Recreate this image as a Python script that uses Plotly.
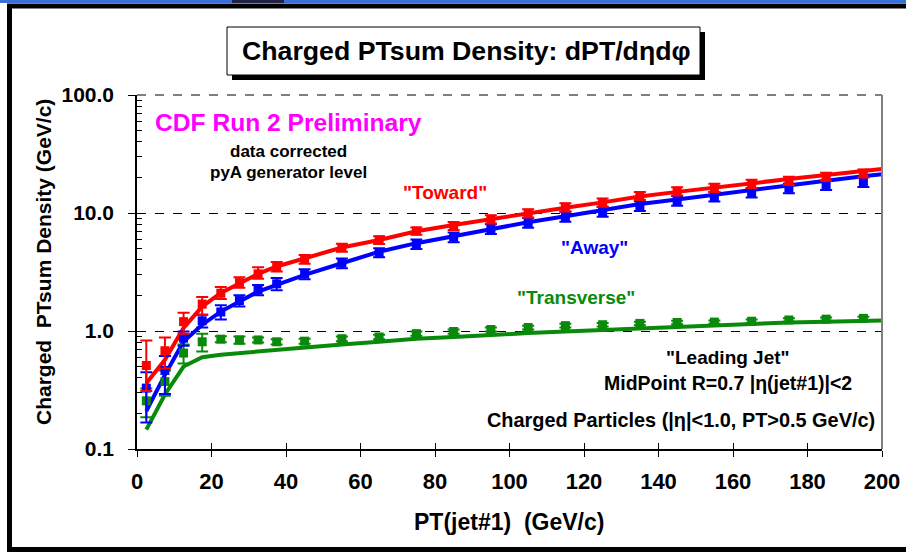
import plotly.graph_objects as go

# ---------------- data ----------------
pt = [2.5, 7.5, 12.5, 17.5, 22.5, 27.5, 32.5, 37.5, 45, 55, 65, 75, 85, 95,
      105, 115, 125, 135, 145, 155, 165, 175, 185, 195]

toward = [0.51, 0.68, 1.20, 1.69, 2.09, 2.57, 3.05, 3.50, 4.06, 5.09, 5.91, 7.05,
          7.78, 8.86, 9.95, 11.2, 12.3, 14.0, 15.3, 16.4, 17.7, 18.8, 20.3, 21.7]
toward_up = [0.32, 0.20, 0.23, 0.25, 0.27, 0.29, 0.42, 0.35, 0.35, 0.40, 0.45, 0.50,
             0.60, 0.70, 0.80, 0.90, 1.00, 1.10, 1.20, 1.30, 1.40, 1.50, 1.60, 1.70]
toward_dn = [0.20, 0.20, 0.25, 0.32, 0.22, 0.24, 0.28, 0.30, 0.35, 0.40, 0.45, 0.50,
             0.60, 0.70, 0.80, 0.90, 1.00, 1.10, 1.20, 1.30, 1.40, 1.50, 1.60, 1.70]

away = [0.328, 0.463, 0.87, 1.22, 1.45, 1.81, 2.23, 2.51, 3.04, 3.76, 4.62, 5.45,
        6.24, 7.33, 8.29, 9.33, 10.3, 11.5, 12.7, 13.8, 14.9, 16.2, 17.3, 18.4]
away_up = [0.12, 0.15, 0.12, 0.15, 0.20, 0.20, 0.22, 0.30, 0.30, 0.35, 0.40, 0.50,
           0.60, 0.70, 0.80, 0.90, 1.00, 1.10, 1.20, 1.30, 1.40, 1.50, 1.60, 1.80]
away_dn = [0.16, 0.17, 0.12, 0.15, 0.20, 0.20, 0.22, 0.30, 0.30, 0.35, 0.40, 0.50,
           0.60, 0.70, 0.80, 0.90, 1.00, 1.10, 1.20, 1.30, 1.40, 1.50, 1.60, 1.80]

transverse = [0.256, 0.373, 0.65, 0.81, 0.853, 0.84, 0.84, 0.81, 0.82, 0.86, 0.89, 0.95,
              0.99, 1.03, 1.07, 1.11, 1.13, 1.16, 1.18, 1.19, 1.21, 1.24, 1.26, 1.28]
transverse_err = [0.07, 0.09, 0.12, 0.14, 0.05, 0.06, 0.04, 0.04, 0.04, 0.04, 0.04, 0.04,
                  0.04, 0.04, 0.04, 0.04, 0.04, 0.04, 0.04, 0.04, 0.04, 0.04, 0.04, 0.04]

# pyA generator level curves
pt_theory = [2.5, 7.5, 12.5, 17.5, 22.5, 27.5, 32.5, 37.5, 45, 55, 65, 75, 85, 95,
             105, 115, 125, 135, 145, 155, 165, 175, 185, 195, 200]
toward_theory = [0.36, 0.57, 1.06, 1.61, 2.10, 2.55, 3.05, 3.52, 4.1, 5.1, 5.9, 7.0, 7.9,
                 8.9, 10.0, 11.1, 12.3, 13.8, 15.1, 16.5, 17.9, 19.4, 21.0, 22.7, 23.6]
away_theory = [0.21, 0.425, 0.815, 1.13, 1.46, 1.78, 2.16, 2.46, 2.99, 3.75, 4.7, 5.55,
               6.4, 7.35, 8.35, 9.4, 10.5, 11.9, 13.0, 14.3, 15.7, 17.2, 18.8, 20.5, 21.3]
transverse_theory = [0.146, 0.29, 0.50, 0.60, 0.63, 0.65, 0.67, 0.69, 0.73, 0.77, 0.81,
                     0.86, 0.89, 0.93, 0.96, 0.99, 1.02, 1.06, 1.09, 1.12, 1.15, 1.18,
                     1.20, 1.22, 1.23]

y_tickvals = [0.1, 1, 10, 100]
y_ticktext = ["0.1", "1.0", "10.0", "100.0"]
x_tickvals = list(range(0, 201, 20))

# ---------------- layout helpers ----------------
W, H = 906, 552
L, R, T, B = 137, 882, 95, 449


def px(x):
    return (x - L) / (R - L)


def py(y):
    return (B - y) / (B - T)


RED, BLUE, GREEN, MAG = "#FF0000", "#0000FF", "#0A8A0A", "#FF00FF"
FONT = "Liberation Sans, Arial, sans-serif"

fig = go.Figure()

for yv, col in [(transverse_theory, GREEN), (away_theory, BLUE), (toward_theory, RED)]:
    fig.add_trace(go.Scatter(x=pt_theory, y=yv, mode="lines",
                             line=dict(color=col, width=4),
                             showlegend=False, hoverinfo="skip"))

for yv, up, dn, col in [(transverse, transverse_err, transverse_err, GREEN),
                        (away, away_up, away_dn, BLUE),
                        (toward, toward_up, toward_dn, RED)]:
    fig.add_trace(go.Scatter(
        x=pt, y=yv, mode="markers",
        marker=dict(symbol="square", size=9, color=col, line=dict(width=0)),
        error_y=dict(type="data", symmetric=False, array=up, arrayminus=dn,
                     color=col, thickness=2, width=6),
        showlegend=False))

# empty trace to activate overlay axes (inside tick halves)
fig.add_trace(go.Scatter(x=[], y=[], xaxis="x2", yaxis="y2", showlegend=False))

minor_vals = [m * 10 ** e for e in (-1, 0, 1) for m in range(2, 10)]

fig.update_layout(
    width=W, height=H, autosize=False,
    margin=dict(l=L, r=W - R, t=T, b=H - B, pad=0),
    paper_bgcolor="white", plot_bgcolor="white",
    font=dict(family=FONT, color="black"),
    xaxis=dict(range=[0, 200], tickvals=x_tickvals, ticks="outside", ticklen=6,
               tickwidth=1, tickcolor="black", showline=True, linecolor="black",
               linewidth=1.5, showgrid=False, zeroline=False, automargin=False,
               tickfont=dict(size=22, family=FONT, weight="bold"),
               ticklabelstandoff=6),
    yaxis=dict(type="log", range=[-1, 2], tickvals=y_tickvals, ticktext=y_ticktext,
               ticks="outside", ticklen=7, tickwidth=1, tickcolor="black",
               showline=True, linecolor="black", linewidth=1.5,
               showgrid=True, gridcolor="black", griddash="dash", gridwidth=1,
               zeroline=False, automargin=False,
               minor=dict(tickvals=minor_vals, ticks="inside", ticklen=5,
                          tickcolor="black", tickwidth=1, showgrid=False),
               tickfont=dict(size=21, family=FONT, weight="bold"),
               ticklabelstandoff=10),
    xaxis2=dict(overlaying="x", anchor="y", range=[0, 200], tickvals=x_tickvals,
                ticks="inside", ticklen=6, tickwidth=1, tickcolor="black",
                showticklabels=False, showgrid=False, zeroline=False, showline=False,
                automargin=False),
    yaxis2=dict(overlaying="y", anchor="x", type="log", range=[-1, 2],
                tickvals=y_tickvals, ticks="inside", ticklen=4, tickwidth=1,
                tickcolor="black", showticklabels=False, showgrid=False,
                zeroline=False, showline=False, automargin=False),
)

shapes = [
    # blue window strip and dark tab at top
    dict(type="rect", x0=px(0), x1=px(W), y0=py(0), y1=py(3),
         fillcolor="#3a6ed8", line=dict(width=0)),
    dict(type="rect", x0=px(232), x1=px(284), y0=py(0), y1=py(3),
         fillcolor="#222244", line=dict(width=0)),
    # black outer frame: left, top and bottom edges (right edge is outside the picture)
    dict(type="line", x0=px(9.5), x1=px(9.5), y0=py(4), y1=py(552),
         line=dict(color="black", width=5)),
    dict(type="line", x0=px(7), x1=px(W), y0=py(6), y1=py(6),
         line=dict(color="black", width=5)),
    dict(type="line", x0=px(7), x1=px(W), y0=py(549.5), y1=py(549.5),
         line=dict(color="black", width=5)),
    # top dashed border at 100
    dict(type="line", x0=0, x1=1, y0=1, y1=1,
         line=dict(color="black", width=1, dash="dash")),
    # right plot border
    dict(type="line", x0=1, x1=1, y0=0, y1=1, line=dict(color="#808080", width=2)),
    # title box shadow + box
    dict(type="rect", x0=px(232), x1=px(705), y0=py(32), y1=py(80),
         fillcolor="black", line=dict(width=0)),
    dict(type="rect", x0=px(227), x1=px(700), y0=py(27), y1=py(75),
         fillcolor="white", line=dict(color="black", width=1)),
]
for s in shapes:
    s.update(xref="paper", yref="paper")
    s.setdefault("layer", "above")
fig.update_layout(shapes=shapes)

notes = [
    ("Charged PTsum Density: dPT/dηdφ", 466, 51, 26.7, "black", 0),
    ("CDF Run 2 Preliminary", 288.5, 122, 24.6, MAG, 0),
    ("data corrected", 288, 151, 17, "black", 0),
    ("pyA generator level", 288, 172, 17, "black", 0),
    ('"Toward"', 445, 192, 19, RED, 0),
    ('"Away"', 594, 247, 19, BLUE, 0),
    ('"Transverse"', 576, 297, 19, GREEN, 0),
    ('"Leading Jet"', 728, 357, 19, "black", 0),
    ("MidPoint R=0.7 |η(jet#1)|<2", 728, 383, 19.5, "black", 0),
    ("Charged Particles (|η|<1.0, PT>0.5 GeV/c)", 681, 420, 19.9, "black", 0),
    ("PT(jet#1)\u00a0 (GeV/c)", 509, 522, 23, "black", 0),
    ("Charged\u00a0 PTsum Density (GeV/c)", 43, 262, 21, "black", -90),
]
for text, x, y, size, col, ang in notes:
    fig.add_annotation(text=text, x=px(x), y=py(y), xref="paper", yref="paper",
                       xanchor="center", yanchor="middle", showarrow=False,
                       textangle=ang,
                       font=dict(size=size, color=col, family=FONT, weight="bold"))

fig.write_html(
    "out.html",
    config={"displayModeBar": False, "responsive": False},
    post_script=("document.body.style.margin='0';"
                 "document.body.style.overflow='hidden';"
                 "document.documentElement.style.overflow='hidden';"),
)
